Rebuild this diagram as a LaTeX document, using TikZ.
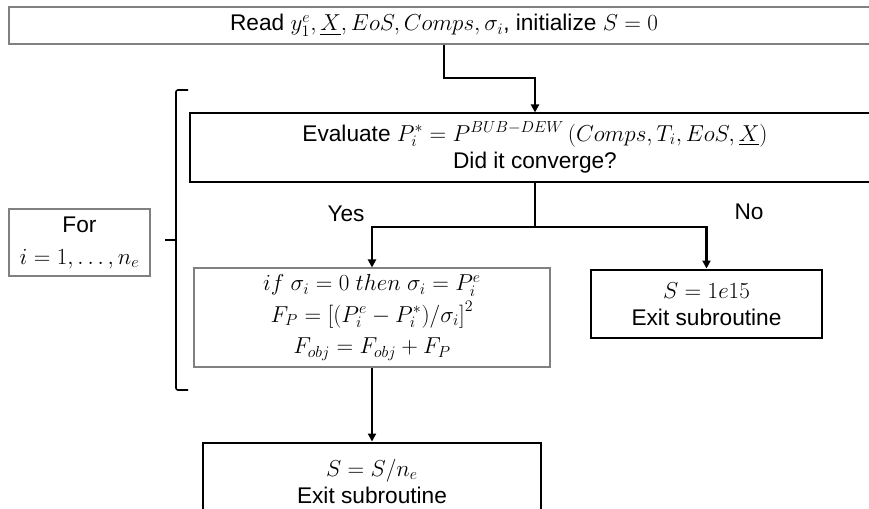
\documentclass[tikz,border=0pt]{standalone}
\usepackage{amsmath,amssymb}
\usepackage{fontspec}
\setmainfont{Liberation Sans}
\usetikzlibrary{arrows.meta}

\begin{document}
\begin{tikzpicture}[x=0.75pt,y=-0.75pt,
    every node/.style={font=\fontsize{17}{20.5}\selectfont, align=center, inner sep=0pt},
    box/.style={draw=gray, line width=0.8pt},
    thickbox/.style={draw=black, line width=2.2pt},
    conn/.style={draw=black, line width=2.2pt},
    arr/.style={conn, -{Triangle[length=6pt,width=6pt]}}]
    \useasboundingbox (0,0) rectangle (869,508);
    \clip (0,0) rectangle (869,508);
    % boxes
    \node[box, minimum width=652.5pt, minimum height=27.75pt] (read) at (444,25.5)
        {Read $y_1^e,\underline{X},EoS,Comps,\sigma_i$, initialize $S=0$};
    \node[draw=black, line width=0.8pt, minimum width=517.5pt, minimum height=51.75pt] (eval) at (535,147.5)
        {Evaluate $P_i^*=P^{BUB-DEW}\left(Comps,T_i,EoS,\underline{X}\right)$\\Did it converge?};
    \node[box, minimum width=267pt, minimum height=74.25pt, font=\fontsize{17}{23.5}\selectfont] (ifbox) at (372,317.5)
        {$if\ \sigma_i=0\ then\ \sigma_i=P_i^e$\\$F_P=\left[(P_i^e-P_i^*)/\sigma_i\right]^2$\\$F_{obj}=F_{obj}+F_P$};
    \node[thickbox, minimum width=173.25pt, minimum height=51pt] (bigS) at (706.5,304)
        {$S=1e15$\\Exit subroutine};
    \node[thickbox, minimum width=253.5pt, minimum height=57.75pt] (last) at (372,481.5)
        {$S=S/n_e$\\Exit subroutine};
    \node[box, minimum width=105.75pt, minimum height=50.25pt, font=\fontsize{17}{24}\selectfont] (forbox) at (79.5,242.5)
        {For\\$i=1,\ldots,n_e$};
    % brace
    \draw[line width=1.2pt, rounded corners=1.5pt] (188,90) -| (176,390) -- (188,390);
    \draw[line width=1.2pt] (176,240) -- (165,240);
    % connectors
    \coordinate (bend) at (535,78);
    \coordinate (split) at (535,227);
    \draw[arr] (read.south) |- (bend) -- (eval.north);
    \draw[conn] (eval.south) -- (split);
    \draw[arr] (split) -| (ifbox.north);
    \draw[arr] (split) -| (bigS.north);
    \draw[arr] (ifbox.south) -- (last.north);
    % labels
    \node (yes) at (346,214) {Yes};
    \node (no) at (749,212) {No};
\end{tikzpicture}
\end{document}
